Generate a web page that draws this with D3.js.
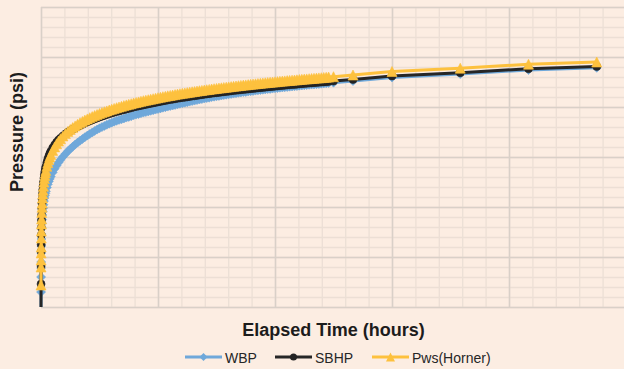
<!DOCTYPE html>
<html>
<head>
<meta charset="utf-8">
<script src="https://cdn.jsdelivr.net/npm/d3@7/dist/d3.min.js"></script>
<style>
  html, body { margin: 0; padding: 0; background: #fcede2; }
  svg { display: block; }
</style>
</head>
<body>
<svg id="chart" width="624" height="369"></svg>
<script>
// Elapsed time of each reading (hours)
const hours = [
  0, 0.005, 0.01, 0.015, 0.02, 0.03, 0.04, 0.05, 0.06, 0.08, 0.1, 0.12, 0.15, 0.18, 0.21,
  0.25, 0.3, 0.35, 0.4, 0.45, 0.5, 0.6, 0.7, 0.8, 0.9, 1.0, 1.2, 1.4, 1.6, 1.8, 2.0,
  2.25, 2.5, 2.75, 3.0, 3.25, 3.5, 3.75, 4.0, 4.25, 4.5, 4.75, 5.0,
  5.25, 5.5, 5.75, 6, 6.25, 6.5, 6.75, 7, 7.25, 7.5, 7.75, 8,
  8.25, 8.5, 8.75, 9, 9.25, 9.5, 9.75, 10, 10.25, 10.5, 10.75, 11,
  11.25, 11.5, 11.75, 12, 12.25, 12.5, 12.75, 13, 13.25, 13.5, 13.75, 14,
  14.25, 14.5, 14.75, 15, 15.25, 15.5, 15.75, 16, 16.25, 16.5, 16.75, 17,
  17.25, 17.5, 17.75, 18, 18.25, 18.5, 18.75, 19, 19.25, 19.5, 19.75, 20,
  20.25, 20.5, 20.75, 21, 21.25, 21.5, 21.75, 22, 22.25, 22.5, 22.75, 23,
  23.25, 23.5, 23.75, 24, 24.25, 24.5, 24.75, 25, 25.25, 25.5, 25.75, 26,
  26.25, 26.5, 26.75, 27, 27.25, 27.5, 27.75, 28, 28.25, 28.5, 28.75, 29,
  29.25, 29.5,
  30, 32, 36, 43, 50, 57
];

// Well bore pressure (psi)
const wbp = [
  1900, 2150, 2300, 2390, 2450, 2540, 2610, 2680, 2730, 2791, 2837, 2874, 2920, 2956, 2987,
  3022, 3059, 3089, 3114, 3136, 3157, 3195, 3227, 3256, 3281, 3304, 3346, 3382, 3415, 3445, 3472,
  3503, 3531, 3557, 3581, 3603, 3624, 3644, 3663, 3680, 3698, 3714, 3730,
  3745, 3760, 3774, 3787, 3799, 3811, 3822, 3833, 3843, 3853, 3862, 3871,
  3877, 3885, 3894, 3901, 3908, 3917, 3924, 3930, 3937, 3944, 3950, 3956,
  3962, 3968, 3974, 3980, 3986, 3993, 3998, 4004, 4010, 4015, 4021, 4027,
  4033, 4038, 4043, 4048, 4054, 4059, 4064, 4069, 4075, 4079, 4085, 4089,
  4093, 4099, 4103, 4107, 4111, 4115, 4119, 4123, 4127, 4131, 4134, 4138,
  4142, 4145, 4149, 4151, 4155, 4158, 4161, 4164, 4167, 4170, 4173, 4176,
  4179, 4181, 4184, 4187, 4189, 4193, 4195, 4197, 4200, 4203, 4205, 4207,
  4209, 4213, 4215, 4217, 4219, 4222, 4224, 4226, 4228, 4230, 4233, 4235,
  4237, 4239,
  4243, 4260, 4295, 4330, 4370, 4392
];

// Static bottom-hole pressure (psi)
const sbhp = [
  1900, 2230, 2410, 2555, 2625, 2720, 2795, 2868, 2920, 2986, 3037, 3079, 3130, 3171, 3207,
  3247, 3289, 3324, 3354, 3381, 3405, 3445, 3478, 3507, 3532, 3554, 3591, 3621, 3647, 3669, 3688,
  3710, 3729, 3747, 3763, 3777, 3791, 3804, 3816, 3827, 3839, 3850, 3861,
  3871, 3881, 3890, 3899, 3908, 3916, 3924, 3932, 3940, 3947, 3954, 3960,
  3967, 3973, 3980, 3986, 3992, 3999, 4005, 4010, 4015, 4021, 4026, 4031,
  4036, 4041, 4046, 4051, 4056, 4061, 4065, 4070, 4074, 4078, 4082, 4087,
  4090, 4094, 4097, 4101, 4105, 4109, 4112, 4116, 4120, 4123, 4127, 4130,
  4133, 4137, 4140, 4143, 4146, 4149, 4152, 4155, 4158, 4161, 4164, 4167,
  4169, 4172, 4175, 4177, 4180, 4183, 4185, 4188, 4191, 4193, 4196, 4198,
  4201, 4203, 4205, 4208, 4210, 4213, 4215, 4217, 4220, 4222, 4224, 4226,
  4228, 4231, 4233, 4235, 4237, 4239, 4241, 4243, 4245, 4247, 4249, 4251,
  4253, 4255,
  4259, 4275, 4310, 4343, 4383, 4405
];

// Horner-extrapolated shut-in pressure (psi)
const pwsHorner = [
  2220, 2400, 2470, 2540, 2600, 2690, 2760, 2830, 2880, 2946, 2997, 3039, 3090, 3131, 3167,
  3207, 3249, 3284, 3314, 3341, 3365, 3407, 3442, 3473, 3500, 3524, 3566, 3601, 3632, 3659, 3683,
  3710, 3734, 3756, 3776, 3794, 3811, 3827, 3842, 3855, 3869, 3881, 3893,
  3904, 3915, 3925, 3935, 3944, 3953, 3961, 3970, 3978, 3986, 3993, 4000,
  4007, 4014, 4021, 4027, 4033, 4040, 4046, 4051, 4057, 4063, 4068, 4073,
  4078, 4083, 4088, 4093, 4098, 4103, 4107, 4112, 4116, 4120, 4124, 4129,
  4133, 4137, 4140, 4144, 4148, 4152, 4155, 4159, 4163, 4166, 4170, 4173,
  4176, 4180, 4183, 4186, 4189, 4192, 4195, 4198, 4201, 4204, 4207, 4210,
  4213, 4216, 4219, 4221, 4224, 4227, 4229, 4232, 4235, 4237, 4240, 4242,
  4245, 4247, 4249, 4252, 4254, 4257, 4259, 4261, 4264, 4266, 4268, 4270,
  4272, 4275, 4277, 4279, 4281, 4283, 4285, 4287, 4289, 4291, 4293, 4295,
  4297, 4299,
  4303, 4320, 4355, 4388, 4428, 4450
];

const seriesNames = ["WBP", "SBHP", "Pws(Horner)"];

// Axis extents (value labels are hidden on this chart)
const xDomain = [0, 60];
const xMajorStep = 12, xMinorStep = 2.4;
const yDomain = [2000, 5000];
const yMajorStep = 500, yMinorStep = 100;

// Marker shapes centred on their bounding box, sized by width in px
const markerDiamond = {
  draw(ctx, w) { const r = w / 2; ctx.moveTo(0, -r); ctx.lineTo(r, 0); ctx.lineTo(0, r); ctx.lineTo(-r, 0); ctx.closePath(); }
};
const markerTriangle = {
  draw(ctx, w) { const r = w / 2; ctx.moveTo(0, -r); ctx.lineTo(r, r); ctx.lineTo(-r, r); ctx.closePath(); }
};
const markerCircle = {
  draw(ctx, w) { const r = w / 2; ctx.moveTo(r, 0); ctx.arc(0, 0, r, 0, 2 * Math.PI); }
};

const series = [
  { name: seriesNames[0], values: wbp, color: "#6fa8da", line: 3, symbol: markerDiamond, size: 9, fill: "#6fa8da" },
  { name: seriesNames[1], values: sbhp, color: "#262626", line: 3, symbol: markerCircle, size: 8, fill: "#232323" },
  { name: seriesNames[2], values: pwsHorner, color: "#fdc13e", line: 3, symbol: markerTriangle, size: 10, fill: "#fdc13e" }
];

const svg = d3.select("#chart");
const W = 624, H = 369;
const plot = { left: 41, top: 7, right: 626, bottom: 307 };

svg.append("rect").attr("width", W).attr("height", H).attr("fill", "#fcede2");

const x = d3.scaleLinear().domain(xDomain).range([plot.left, plot.right]);
const y = d3.scaleLinear().domain(yDomain).range([plot.bottom, plot.top]);

const stepTicks = (dom, step) => d3.range(dom[0], dom[1] + step / 2, step);

function gridLayer(axis, tr, color, width) {
  svg.append("g")
    .attr("transform", tr)
    .call(axis)
    .call(g => g.select(".domain").remove())
    .call(g => g.selectAll("line").attr("stroke", color).attr("stroke-width", width));
}

// Minor gridlines
gridLayer(d3.axisBottom(x).tickValues(stepTicks(xDomain, xMinorStep)).tickSize(-(plot.bottom - plot.top)).tickFormat(""),
  `translate(0,${plot.bottom})`, "#ecdfd5", 1.3);
gridLayer(d3.axisLeft(y).tickValues(stepTicks(yDomain, yMinorStep)).tickSize(-(plot.right - plot.left)).tickFormat(""),
  `translate(${plot.left},0)`, "#ecdfd5", 1.3);
// Major gridlines
gridLayer(d3.axisBottom(x).tickValues(stepTicks(xDomain, xMajorStep)).tickSize(-(plot.bottom - plot.top)).tickFormat(""),
  `translate(0,${plot.bottom})`, "#d9d0c8", 1.5);
gridLayer(d3.axisLeft(y).tickValues(stepTicks(yDomain, yMajorStep)).tickSize(-(plot.right - plot.left)).tickFormat(""),
  `translate(${plot.left},0)`, "#d9d0c8", 1.5);

// Clip traces to the vertical extent of the plot
svg.append("clipPath").attr("id", "plotClip")
  .append("rect").attr("x", 0).attr("y", plot.top).attr("width", W).attr("height", plot.bottom - plot.top);

const traces = svg.append("g").attr("clip-path", "url(#plotClip)");
const lineGen = d3.line().x((d, i) => x(hours[i])).y(d => y(d));

series.forEach(s => {
  const g = traces.append("g");
  g.append("path")
    .datum(s.values)
    .attr("fill", "none")
    .attr("stroke", s.color)
    .attr("stroke-width", s.line)
    .attr("stroke-linejoin", "round")
    .attr("d", lineGen);
  g.selectAll("path.mk")
    .data(s.values)
    .join("path")
    .attr("class", "mk")
    .attr("d", d3.symbol().type(s.symbol).size(s.size))
    .attr("transform", (d, i) => `translate(${x(hours[i])},${y(d)})`)
    .attr("fill", s.fill)
    .attr("stroke", s.fill)
    .attr("stroke-width", 0.6);
});

// Axis titles
svg.append("text")
  .attr("x", (plot.left + plot.right) / 2).attr("y", 336)
  .attr("text-anchor", "middle")
  .attr("font-family", "Liberation Sans, Arial, sans-serif")
  .attr("font-weight", "bold").attr("font-size", 18).attr("fill", "#1c1c1c")
  .text("Elapsed Time (hours)");

svg.append("text")
  .attr("transform", "translate(23,132) rotate(-90)")
  .attr("text-anchor", "middle")
  .attr("font-family", "Liberation Sans, Arial, sans-serif")
  .attr("font-weight", "bold").attr("font-size", 18).attr("fill", "#1c1c1c")
  .text("Pressure (psi)");

// Legend
const legendX = [185, 275, 372];
const legend = svg.append("g");
series.forEach((s, i) => {
  const g = legend.append("g").attr("transform", `translate(${legendX[i]},357)`);
  g.append("line").attr("x1", 0).attr("x2", 37).attr("y1", 0).attr("y2", 0)
    .attr("stroke", s.color).attr("stroke-width", s.line);
  g.append("path").attr("d", d3.symbol().type(s.symbol).size(s.size - 1))
    .attr("transform", "translate(18.5,0)").attr("fill", s.fill);
  g.append("text").attr("x", 40).attr("y", 6)
    .attr("font-family", "Liberation Sans, Arial, sans-serif")
    .attr("font-size", 14).attr("fill", "#262626")
    .text(s.name);
});
</script>
</body>
</html>
